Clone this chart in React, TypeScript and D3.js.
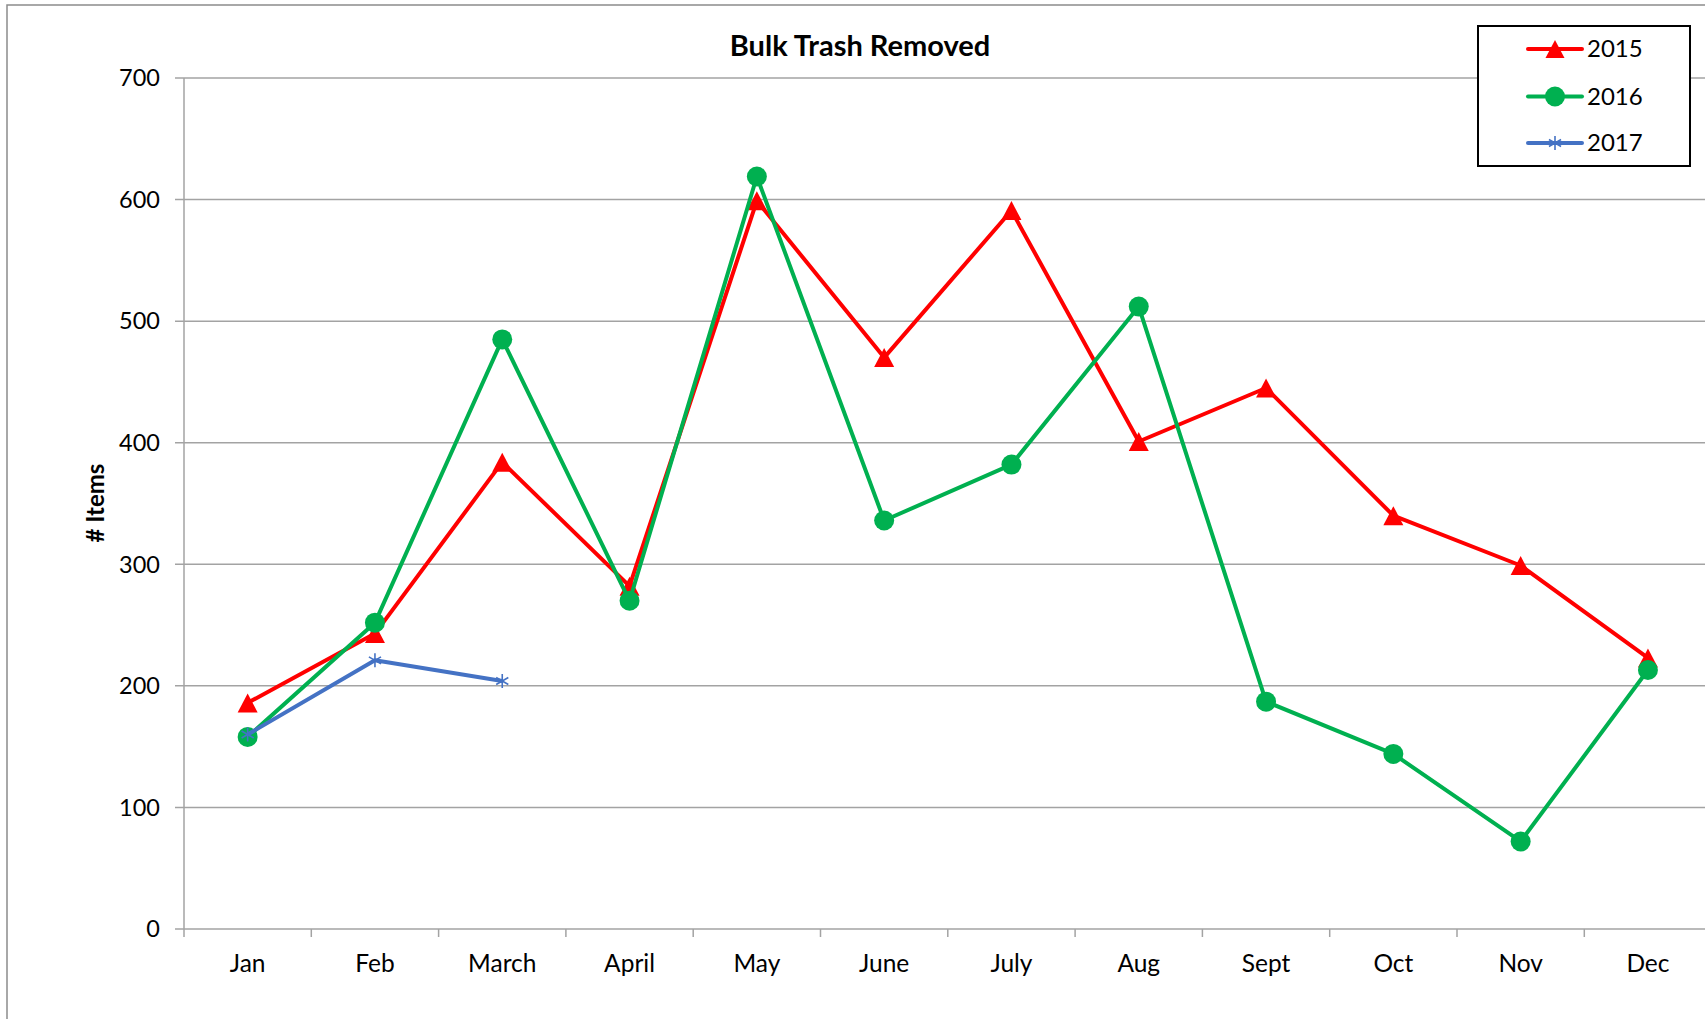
import React from 'react';
import * as d3 from 'd3';

// values
const months = ['Jan', 'Feb', 'March', 'April', 'May', 'June', 'July', 'Aug', 'Sept', 'Oct', 'Nov', 'Dec'];
const trash2015 = [186, 243, 384, 282, 599, 470, 591, 401, 445, 340, 299, 223];
const trash2016 = [158, 252, 485, 270, 619, 336, 382, 512, 187, 144, 72, 213];
const trash2017 = [160, 221, 204];
const yTicks = [0, 100, 200, 300, 400, 500, 600, 700];

const W = 1705;
const H = 1019;
const FONT = 'Lato, "Open Sans", sans-serif';

const RED = '#FF0000';
const GREEN = '#00B050';
const BLUE = '#4472C4';
const GRID = '#a3a3a3';

function Triangle({ x, y, s = 20 }) {
  const h = s * 0.95;
  return (
    <path
      d={`M${x},${y - h / 2}L${x + s / 2},${y + h / 2}L${x - s / 2},${y + h / 2}Z`}
      fill={RED}
    />
  );
}

function Dot({ x, y }) {
  return <circle cx={x} cy={y} r={10} fill={GREEN} />;
}

function Star({ x, y, r = 7 }) {
  const d = r * 0.866;
  return (
    <g stroke={BLUE} strokeWidth={1.6}>
      <line x1={x} y1={y - r} x2={x} y2={y + r} />
      <line x1={x - d} y1={y - r / 2} x2={x + d} y2={y + r / 2} />
      <line x1={x - d} y1={y + r / 2} x2={x + d} y2={y - r / 2} />
    </g>
  );
}

export default function App() {
  const left = 184;
  const step = 127.3;
  const x = d3
    .scaleBand()
    .domain(months)
    .range([left, left + step * months.length]);
  const y = d3.scaleLinear().domain([0, 700]).range([929, 78]);
  const cx = (m) => x(m) + x.bandwidth() / 2;

  const line = d3
    .line()
    .x((d, i) => cx(months[i]))
    .y((d) => y(d));

  const right = left + step * months.length;

  const legend = [
    { label: '2015', color: RED, kind: 'tri' },
    { label: '2016', color: GREEN, kind: 'dot' },
    { label: '2017', color: BLUE, kind: 'star' },
  ];
  const legendY = [49, 96.5, 143];

  return (
    <svg
      width={W}
      height={H}
      style={{ position: 'absolute', left: 0, top: 0, background: '#fff' }}
      fontFamily={FONT}
    >
      <rect x={0} y={0} width={W} height={H} fill="#fff" />
      {/* outer chart border */}
      <path d={`M7,${H}V5H${W}`} fill="none" stroke="#8c8c8c" strokeWidth={1.5} />

      {/* grid */}
      {yTicks.map((t) => (
        <g key={t}>
          <line x1={175} x2={right} y1={y(t)} y2={y(t)} stroke={GRID} strokeWidth={1.5} />
          <text x={160} y={y(t)} dy="0.35em" textAnchor="end" fontSize={23.5} fill="#000">
            {t}
          </text>
        </g>
      ))}
      <line x1={left} x2={left} y1={y(700)} y2={y(0)} stroke={GRID} strokeWidth={1.5} />
      {months.map((m, i) => (
        <line key={m} x1={x(m)} x2={x(m)} y1={y(0)} y2={y(0) + 8} stroke={GRID} strokeWidth={1.5} />
      ))}
      {months.map((m) => (
        <text key={m} x={cx(m)} y={963} dy="0.35em" textAnchor="middle" fontSize={24.5} fill="#000">
          {m}
        </text>
      ))}

      {/* title and axis label */}
      <text x={860} y={46} dy="0.35em" textAnchor="middle" fontSize={29} fontWeight="bold">
        Bulk Trash Removed
      </text>
      <text
        transform={`translate(96,503) rotate(-90)`}
        dy="0.35em"
        textAnchor="middle"
        fontSize={24}
        fontWeight="bold"
      >
        # Items
      </text>

      {/* series */}
      <path d={line(trash2015)} fill="none" stroke={RED} strokeWidth={4} strokeLinejoin="round" />
      {trash2015.map((v, i) => (
        <Triangle key={i} x={cx(months[i])} y={y(v)} />
      ))}
      <path d={line(trash2016)} fill="none" stroke={GREEN} strokeWidth={4} strokeLinejoin="round" />
      {trash2016.map((v, i) => (
        <Dot key={i} x={cx(months[i])} y={y(v)} />
      ))}
      <path d={line(trash2017)} fill="none" stroke={BLUE} strokeWidth={4} strokeLinejoin="round" />
      {trash2017.map((v, i) => (
        <Star key={i} x={cx(months[i])} y={y(v)} />
      ))}

      {/* legend */}
      <rect x={1478} y={26} width={212} height={140} fill="#fff" stroke="#000" strokeWidth={2} />
      {legend.map((l, i) => (
        <g key={l.label}>
          <line x1={1528} x2={1582} y1={legendY[i]} y2={legendY[i]} stroke={l.color} strokeWidth={4} strokeLinecap="round" />
          {l.kind === 'tri' && <Triangle x={1555} y={legendY[i]} s={19} />}
          {l.kind === 'dot' && <Dot x={1555} y={legendY[i]} />}
          {l.kind === 'star' && <Star x={1555} y={legendY[i]} />}
          <text x={1587} y={legendY[i]} dy="0.35em" fontSize={24} fill="#000">
            {l.label}
          </text>
        </g>
      ))}
    </svg>
  );
}
